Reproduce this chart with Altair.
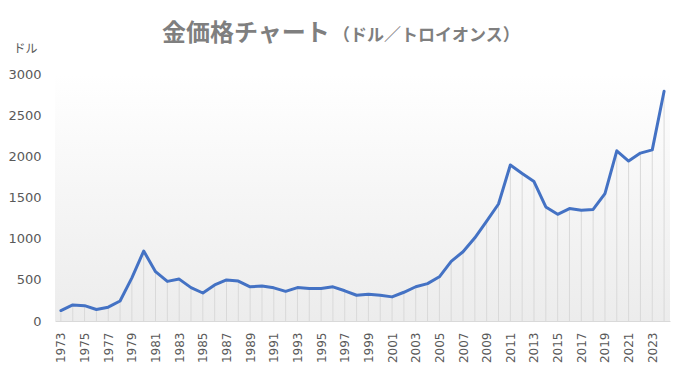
import altair as alt
import pandas as pd

years = list(range(1973, 2025))
prices = [127, 195, 186, 140, 168, 243, 524, 850, 599, 481,
          509, 405, 340, 438, 499, 485, 415, 424, 403, 360,
          406, 396, 396, 415, 367, 313, 326, 313, 293, 349,
          416, 454, 537, 725, 841, 1011, 1213, 1421, 1895, 1792,
          1694, 1385, 1296, 1366, 1346, 1355, 1546, 2067, 1943, 2039,
          2078, 2790]
y_ticks = [0, 500, 1000, 1500, 2000, 2500, 3000]
x_ticks = years[::2]
title_main = "金価格チャート"
title_sub = "（ドル／トロイオンス）"
y_unit = "ドル"

W, H = 615, 247
df = pd.DataFrame({"year": years, "price": prices})

xenc = alt.X(
    "year:O",
    scale=alt.Scale(type="point", padding=0.5),
    axis=alt.Axis(
        title=None, values=x_ticks, labelAngle=-90, ticks=False,
        domainColor="#d9d9d9", labelPadding=11, labelFont="DejaVu Sans",
        labelFontSize=12, labelColor="#595959", grid=False,
    ),
)
yenc = alt.Y(
    "price:Q",
    scale=alt.Scale(domain=[0, 3000], nice=False),
    axis=alt.Axis(
        title=y_unit, titleAngle=0, titleAlign="left", titleBaseline="alphabetic",
        titleX=-42, titleY=-22, titleFont="Noto Sans CJK JP", titleFontSize=12,
        titleFontWeight="normal", titleColor="#595959", format="d",
        values=y_ticks, grid=False, domain=False, ticks=False, labelPadding=14,
        labelFont="DejaVu Sans", labelFontSize=13, labelColor="#595959",
    ),
)

grad = alt.Gradient(
    gradient="linear",
    stops=[alt.GradientStop(color="#ffffff", offset=0),
           alt.GradientStop(color="#ececec", offset=1)],
    x1=0, x2=0, y1=0, y2=1,
)

bg = alt.Chart(pd.DataFrame({"k": [0]})).mark_rect(fill=grad).encode(
    x=alt.value(0), x2=alt.value(W), y=alt.value(0), y2=alt.value(H)
)

rules = alt.Chart(df).mark_rule(color="#d9d9d9", strokeWidth=1).encode(
    x=xenc, y=yenc, y2=alt.datum(0)
)

line = alt.Chart(df).mark_line(
    color="#4472C4", strokeWidth=3, strokeJoin="round", strokeCap="round"
).encode(x=xenc, y=yenc)

tdf = pd.DataFrame({"t": [title_main]})
sdf = pd.DataFrame({"t": [title_sub]})
t1 = alt.Chart(tdf).mark_text(
    font="Noto Sans CJK JP", fontSize=24, fontWeight="bold", color="#7f7f7f",
    align="left", baseline="alphabetic"
).encode(text="t:N", x=alt.value(107), y=alt.value(-33))
t2 = alt.Chart(sdf).mark_text(
    font="Noto Sans CJK JP", fontSize=17, fontWeight="bold", color="#7f7f7f",
    align="left", baseline="alphabetic"
).encode(text="t:N", x=alt.value(278), y=alt.value(-33))

chart = alt.layer(bg, rules, line, t1, t2).properties(
    width=W, height=H,
    autosize=alt.AutoSizeParams(type="none"),
    padding={"left": 47, "top": 66, "right": 11, "bottom": 44},
).configure_view(stroke=None)

chart.save("out.html", embed_options={"renderer": "svg", "actions": False})
